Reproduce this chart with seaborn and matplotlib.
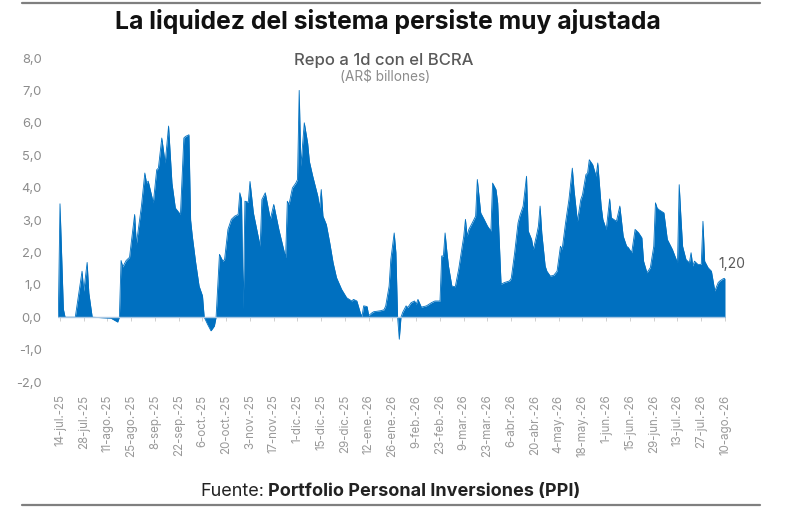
import matplotlib
matplotlib.use("Agg")
import matplotlib.pyplot as plt
from matplotlib.lines import Line2D
import seaborn as sns
import pandas as pd

# ---------------- data ----------------
dates = [
    "2025-07-13", "2025-07-14", "2025-07-16", "2025-07-17", "2025-07-23", "2025-07-27",
    "2025-07-28", "2025-07-30", "2025-07-31", "2025-08-02", "2025-08-13", "2025-08-17",
    "2025-08-18", "2025-08-19", "2025-08-20", "2025-08-22", "2025-08-24", "2025-08-25",
    "2025-08-27", "2025-08-28", "2025-08-31", "2025-09-02", "2025-09-03", "2025-09-04",
    "2025-09-07", "2025-09-09", "2025-09-10", "2025-09-12", "2025-09-14", "2025-09-16",
    "2025-09-18", "2025-09-20", "2025-09-23", "2025-09-25", "2025-09-26", "2025-09-28",
    "2025-09-29", "2025-09-30", "2025-10-02", "2025-10-04", "2025-10-06", "2025-10-07",
    "2025-10-09", "2025-10-11", "2025-10-13", "2025-10-14", "2025-10-16", "2025-10-18",
    "2025-10-19", "2025-10-21", "2025-10-23", "2025-10-25", "2025-10-27", "2025-10-28",
    "2025-10-29", "2025-10-30", "2025-10-31", "2025-11-02", "2025-11-03", "2025-11-05",
    "2025-11-09", "2025-11-10", "2025-11-12", "2025-11-15", "2025-11-17", "2025-11-20",
    "2025-11-24", "2025-11-25", "2025-11-26", "2025-11-28", "2025-11-30", "2025-12-01",
    "2025-12-02", "2025-12-03", "2025-12-05", "2025-12-07", "2025-12-08", "2025-12-10",
    "2025-12-13", "2025-12-14", "2025-12-15", "2025-12-16", "2025-12-18", "2025-12-20",
    "2025-12-22", "2025-12-24", "2025-12-27", "2025-12-30", "2026-01-02", "2026-01-03",
    "2026-01-05", "2026-01-07", "2026-01-08", "2026-01-09", "2026-01-11", "2026-01-12",
    "2026-01-14", "2026-01-15", "2026-01-19", "2026-01-21", "2026-01-22", "2026-01-24",
    "2026-01-25", "2026-01-27", "2026-01-28", "2026-01-29", "2026-01-30", "2026-01-31",
    "2026-02-01", "2026-02-03", "2026-02-04", "2026-02-06", "2026-02-08", "2026-02-09",
    "2026-02-10", "2026-02-12", "2026-02-15", "2026-02-18", "2026-02-20", "2026-02-23",
    "2026-02-24", "2026-02-25", "2026-02-26", "2026-02-27", "2026-02-28", "2026-03-02",
    "2026-03-04", "2026-03-06", "2026-03-09", "2026-03-10", "2026-03-11", "2026-03-12",
    "2026-03-14", "2026-03-16", "2026-03-17", "2026-03-19", "2026-03-21", "2026-03-23",
    "2026-03-25", "2026-03-26", "2026-03-28", "2026-03-29", "2026-03-31", "2026-04-02",
    "2026-04-05", "2026-04-06", "2026-04-08", "2026-04-10", "2026-04-11", "2026-04-13",
    "2026-04-15", "2026-04-16", "2026-04-18", "2026-04-19", "2026-04-21", "2026-04-22",
    "2026-04-23", "2026-04-24", "2026-04-26", "2026-04-27", "2026-04-29", "2026-05-01",
    "2026-05-03", "2026-05-05", "2026-05-06", "2026-05-08", "2026-05-10", "2026-05-12",
    "2026-05-13", "2026-05-15", "2026-05-17", "2026-05-18", "2026-05-20", "2026-05-21",
    "2026-05-22", "2026-05-24", "2026-05-26", "2026-05-27", "2026-05-29", "2026-05-30",
    "2026-06-01", "2026-06-03", "2026-06-04", "2026-06-07", "2026-06-09", "2026-06-11",
    "2026-06-13", "2026-06-14", "2026-06-16", "2026-06-18", "2026-06-20", "2026-06-22",
    "2026-06-23", "2026-06-25", "2026-06-27", "2026-06-29", "2026-06-30", "2026-07-01",
    "2026-07-02", "2026-07-05", "2026-07-07", "2026-07-10", "2026-07-13", "2026-07-14",
    "2026-07-15", "2026-07-16", "2026-07-18", "2026-07-20", "2026-07-21", "2026-07-22",
    "2026-07-23", "2026-07-25", "2026-07-27", "2026-07-28", "2026-07-29", "2026-07-31",
    "2026-08-02", "2026-08-04", "2026-08-06", "2026-08-07", "2026-08-09", "2026-08-10",
]
repo = [
    0.00, 3.50, 0.25, 0.00, 0.00, 1.42,
    0.80, 1.69, 0.75, 0.00, -0.03, -0.15,
    0.00, 1.75, 1.55, 1.75, 1.85, 2.30,
    3.17, 2.25, 3.43, 4.45, 4.14, 4.20,
    3.53, 4.55, 4.60, 5.53, 4.76, 5.90,
    4.14, 3.37, 3.17, 5.53, 5.58, 5.63,
    3.00, 2.50, 1.68, 0.96, 0.66, 0.00,
    -0.22, -0.42, -0.27, 0.00, 1.94, 1.73,
    1.78, 2.71, 3.02, 3.12, 3.17, 3.84,
    3.63, 0.25, 3.58, 3.55, 4.19, 3.22,
    2.19, 3.63, 3.84, 3.02, 3.48, 2.71,
    1.84, 3.58, 3.48, 3.99, 4.14, 4.25,
    7.00, 4.66, 6.00, 5.37, 4.81, 4.35,
    3.73, 3.37, 3.94, 3.12, 2.86, 2.30,
    1.68, 1.22, 0.86, 0.60, 0.50, 0.55,
    0.50, 0.14, 0.02, 0.35, 0.33, 0.05,
    0.14, 0.17, 0.20, 0.23, 0.35, 0.96,
    1.78, 2.60, 2.00, 0.00, -0.68, 0.00,
    0.15, 0.35, 0.30, 0.45, 0.50, 0.40,
    0.55, 0.31, 0.35, 0.45, 0.50, 0.50,
    1.89, 1.89, 2.60, 2.05, 1.58, 0.96,
    0.94, 1.48, 2.50, 3.02, 2.50, 2.71,
    2.91, 3.12, 4.25, 3.22, 3.02, 2.81,
    2.66, 4.14, 3.94, 3.53, 1.02, 1.07,
    1.12, 1.20, 1.99, 2.91, 3.12, 3.43,
    4.35, 2.66, 2.40, 2.09, 2.55, 2.81,
    3.43, 2.60, 1.58, 1.42, 1.27, 1.29,
    1.42, 2.19, 2.09, 2.91, 3.63, 4.60,
    3.94, 2.96, 3.63, 3.78, 4.40, 4.45,
    4.86, 4.71, 4.35, 4.76, 3.43, 3.02,
    2.71, 3.65, 3.07, 2.96, 3.43, 2.50,
    2.19, 2.15, 1.99, 2.71, 2.61, 2.45,
    1.73, 1.37, 1.53, 2.19, 3.53, 3.37,
    3.32, 3.22, 2.40, 2.09, 1.68, 4.09,
    3.10, 2.19, 1.78, 1.68, 1.99, 1.58,
    1.73, 1.63, 1.63, 2.96, 1.73, 1.53,
    1.42, 0.81, 1.07, 1.12, 1.19, 1.20,
]
tick_dates = pd.date_range("2025-07-14", "2026-08-10", freq="14D")
tick_labels = [
    "14-jul.-25", "28-jul.-25", "11-ago.-25", "25-ago.-25", "8-sep.-25", "22-sep.-25",
    "6-oct.-25", "20-oct.-25", "3-nov.-25", "17-nov.-25", "1-dic.-25", "15-dic.-25",
    "29-dic.-25", "12-ene.-26", "26-ene.-26", "9-feb.-26", "23-feb.-26", "9-mar.-26",
    "23-mar.-26", "6-abr.-26", "20-abr.-26", "4-may.-26", "18-may.-26", "1-jun.-26",
    "15-jun.-26", "29-jun.-26", "13-jul.-26", "27-jul.-26", "10-ago.-26",
]
y_ticks = [-2, -1, 0, 1, 2, 3, 4, 5, 6, 7, 8]

title = "La liquidez del sistema persiste muy ajustada"
subtitle = "Repo a 1d con el BCRA"
unit = "(AR\\$ billones)"
source_lead = "Fuente:"
source_name = "Portfolio Personal Inversiones (PPI)"

# ---------------- style ----------------
sns.set_theme(style="white")
plt.rcParams["font.family"] = ["Inter", "DejaVu Sans"]

BLUE = "#0070C0"
GREY = "#8C8C8C"

df = pd.DataFrame({"fecha": pd.to_datetime(dates), "repo": repo})

W, H = 800, 509
fig = plt.figure(figsize=(W / 100, H / 100), dpi=100)
ax = fig.add_axes([58.3 / W, 1 - 382 / H, 666.7 / W, 324 / H])

sns.lineplot(data=df, x="fecha", y="repo", ax=ax, color=BLUE, linewidth=0.6)
ax.fill_between(df["fecha"], df["repo"], 0, color=BLUE, linewidth=0)

ax.set_xlim(df["fecha"].iloc[0], df["fecha"].iloc[-1])
ax.set_ylim(-2, 8)
ax.set_yticks(y_ticks)
ax.set_yticklabels([f"{v:.1f}".replace(".", ",") for v in y_ticks])
ax.set_xticks(tick_dates)
ax.set_xticklabels(tick_labels, rotation=90)
ax.tick_params(axis="x", length=0, pad=9, labelsize=8.3, labelcolor="#999999")
ax.tick_params(axis="y", length=0, pad=12, labelsize=9.3, labelcolor=GREY)
ax.set_xlabel("")
ax.set_ylabel("")
for s in ax.spines.values():
    s.set_visible(False)

# zero axis line with small tick marks
ax.axhline(0, color="#A9C7E3", linewidth=1.0, zorder=3)
sec = ax.secondary_xaxis(0.2)
sec.set_xticks(tick_dates)
sec.tick_params(axis="x", direction="out", length=3, width=0.6, color="#C8C8C8",
                labelbottom=False, labeltop=False)
for s in sec.spines.values():
    s.set_visible(False)

# last value label
last_val = df["repo"].iloc[-1]
ax.annotate(f"{last_val:.2f}".replace(".", ","), xy=(df["fecha"].iloc[-1], last_val),
            xytext=(-5, 10), textcoords="offset points", ha="left", va="center",
            fontsize=10, color="#595959")

# texts
fig.text(388 / W, 1 - 21 / H, title, ha="center", va="center", fontsize=17.8,
         fontweight="bold", color="#111111")
fig.text(384 / W, 1 - 60 / H, subtitle, ha="center", va="center", fontsize=12,
         fontweight="medium", color="#595959")
fig.text(385 / W, 1 - 77 / H, unit, ha="center", va="center", fontsize=9.8,
         color=GREY)
fig.text(264 / W, 1 - 491 / H, source_lead, ha="right", va="center", fontsize=13,
         color="#222222")
fig.text(268 / W, 1 - 491 / H, source_name, ha="left", va="center", fontsize=13,
         fontweight="bold", color="#222222")

# frame lines top and bottom
for yy in (3, 505):
    fig.add_artist(Line2D([22 / W, 760 / W], [1 - yy / H, 1 - yy / H],
                          transform=fig.transFigure, color="#7F7F7F", linewidth=1.6))

fig.savefig("out.png", dpi=100, facecolor="white")
